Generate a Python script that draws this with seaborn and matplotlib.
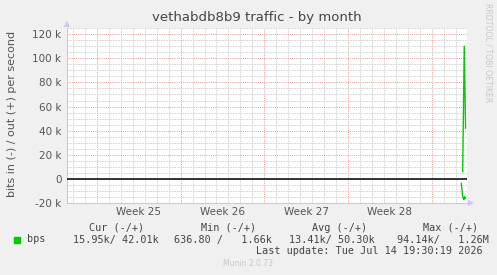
import numpy as np
import pandas as pd
import matplotlib
matplotlib.use("Agg")
import matplotlib.pyplot as plt
from matplotlib.ticker import FixedLocator, FuncFormatter, MultipleLocator
import seaborn as sns

# ---- data ----
title = "vethabdb8b9 traffic - by month"
ylabel = "bits in (-) / out (+) per second"
week_labels = ["Week 25", "Week 26", "Week 27", "Week 28"]
span_days = 33.45          # visible time range in days
first_week_start = 2.5     # day offset of first Monday boundary
# out (+) series: time in days, value in bits/s
t_out = [33.09, 33.22, 33.33]
v_out = [6000, 110000, 42010]
# in (-) series (plotted negative)
t_in = [32.97, 33.07, 33.14, 33.19, 33.25, 33.32]
v_in = [3300, 13000, 16000, 17000, 14500, 15950]
legend_cols = ["Cur (-/+)", "Min (-/+)", "Avg (-/+)", "Max (-/+)"]
legend_vals = ["15.95k/ 42.01k", "636.80 /   1.66k", "13.41k/ 50.30k", "94.14k/   1.26M"]
series_name = "bps"
last_update = "Last update: Tue Jul 14 19:30:19 2026"
version = "Munin 2.0.73"
y_min, y_max = -20000, 125000

sns.set_style("white")
plt.rcParams["font.family"] = ["DejaVu Sans"]

W, H = 497, 275
fig = plt.figure(figsize=(W / 100, H / 100), dpi=100)
fig.patch.set_facecolor("#F0F0F0")
L, R, T, B = 67, 467, 28, 203.3
ax = fig.add_axes([L / W, 1 - B / H, (R - L) / W, (B - T) / H])
ax.set_facecolor("white")

df = pd.concat([
    pd.DataFrame({"t": t_out, "v": v_out, "dir": "out"}),
    pd.DataFrame({"t": t_in, "v": [-x for x in v_in], "dir": "in"}),
])
green = "#00CC00"
sns.lineplot(data=df, x="t", y="v", units="dir", estimator=None, color=green,
             lw=1.0, ax=ax, legend=False, sort=True)
ax.axhline(0, color="black", lw=1.1, zorder=3)
ax.set_xlabel("")
ax.set_ylabel("")

ax.set_xlim(0, span_days)
ax.set_ylim(y_min, y_max)

# grid
week_lines = np.arange(first_week_start, span_days, 7)
day_lines = np.arange(first_week_start % 1, span_days, 1)
ax.xaxis.set_major_locator(FixedLocator(week_lines))
ax.xaxis.set_minor_locator(FixedLocator(day_lines))
ax.yaxis.set_major_locator(MultipleLocator(20000))
ax.yaxis.set_minor_locator(MultipleLocator(5000))
ax.grid(which="minor", color="#CFCFCF", lw=0.6, ls=(0, (2, 1.2)))
ax.grid(which="major", color="#EE9999", lw=0.7, ls=(0, (1, 1.2)))
ax.set_axisbelow(True)

def yfmt(v, p):
    if abs(v) < 1:
        return "0"
    return f"{int(v/1000)} k"
ax.yaxis.set_major_formatter(FuncFormatter(yfmt))
ax.set_xticklabels([])
ax.tick_params(axis="y", which="major", length=2, color="#EE9999", labelsize=7.5,
               labelcolor="#555555", pad=2)
ax.tick_params(axis="y", which="minor", length=0)
ax.tick_params(axis="x", which="major", length=2, color="#EE9999", direction="out")
ax.tick_params(axis="x", which="minor", length=0)

for s in ["top", "right"]:
    ax.spines[s].set_visible(False)
for s in ["left", "bottom"]:
    ax.spines[s].set_color("#C8C8F0")
    ax.spines[s].set_linewidth(0.8)
# axis arrows
ax.plot([0], [1.025], marker="^", ms=5, color="#C8C8F0", transform=ax.transAxes,
        clip_on=False, mew=0)
ax.plot([1.009], [0], marker=">", ms=5, color="#C8C8F0", transform=ax.transAxes,
        clip_on=False, mew=0)

# week labels
for i, lab in enumerate(week_labels):
    ax.text(week_lines[i] + 3.5, -0.05, lab, transform=ax.get_xaxis_transform(),
            ha="center", va="center", fontsize=7.5, color="#555555")

def fx(px):
    return px / W
def fy(py):
    return 1 - py / H

fig.text(fx(257), fy(18), title, ha="center", va="center", fontsize=9.5, color="#444444")
fig.text(fx(12), fy(114), ylabel, rotation=90, ha="center", va="center",
         fontsize=8, color="#555555")
fig.text(fx(488), fy(53), "RRDTOOL / TOBI OETIKER", rotation=270, ha="center",
         va="center", fontsize=5.6, color="#C8C8C8")

mono = "DejaVu Sans Mono"
hdr_x = [89.3, 201, 312, 423]
for x, s in zip(hdr_x, legend_cols):
    fig.text(fx(x), fy(228), s, ha="left", va="center", fontsize=7.3,
             family=mono, color="#444444")
val_x = [73, 174.3, 289.3, 397]
for x, s in zip(val_x, legend_vals):
    fig.text(fx(x), fy(239.5), s, ha="left", va="center", fontsize=7.3,
             family=mono, color="#444444")
fig.text(fx(26.7), fy(239.5), series_name, ha="left", va="center", fontsize=7.3,
         family=mono, color="#444444")
fig.patches.append(plt.Rectangle((fx(14), fy(243.3)), 6 / W, 6 / H, color=green,
                                 transform=fig.transFigure, figure=fig))
fig.text(fx(482.7), fy(251), last_update, ha="right", va="center", fontsize=7.3,
         family=mono, color="#444444")
fig.text(fx(248), fy(264), version, ha="center", va="center", fontsize=5.5,
         color="#C8C8C8")

fig.savefig("out.png", dpi=100, facecolor=fig.get_facecolor())
